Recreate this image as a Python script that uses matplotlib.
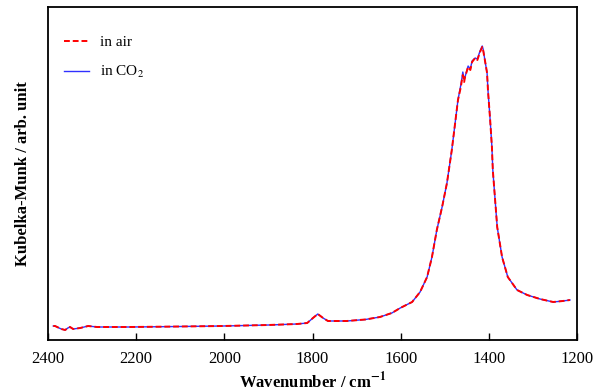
import matplotlib.pyplot as plt

plt.rcParams['font.family'] = ['Liberation Serif', 'DejaVu Serif']
plt.rcParams['mathtext.fontset'] = 'stix'

# wavenumber (cm-1) and Kubelka-Munk intensity (arb.)
wn = [2388, 2384, 2370, 2361, 2355, 2350, 2343, 2327, 2309, 2289, 2214, 2100, 2003,
      1900, 1835, 1812, 1799, 1788, 1776, 1765, 1722, 1680, 1647, 1620, 1601, 1574,
      1556, 1540, 1529, 1518, 1506, 1495, 1484, 1470, 1464, 1461, 1459, 1456, 1454,
      1447, 1442, 1438, 1431, 1426, 1420, 1417, 1415, 1413, 1409, 1404, 1402, 1397,
      1393, 1391, 1381, 1370, 1357, 1336, 1313, 1284, 1254, 1232, 1216]
air = [14, 14, 11, 10, 12, 13, 11, 12, 14, 13, 13, 13.5, 14,
       15, 16, 17, 22, 26, 22, 19, 19, 20.5, 23, 27, 32, 38,
       48, 63, 83, 110, 133, 157, 190, 240, 252, 260, 265, 258, 263,
       273, 270, 278, 282, 280, 288, 291, 293, 290, 280, 267, 250, 220,
       193, 170, 113, 83, 63, 50, 45, 41, 38, 39, 40]
co2 = [14, 14, 11, 10, 12, 13, 11, 12, 14, 13, 13, 13.5, 14,
       15, 16, 17, 22, 26, 22, 19, 19, 20.5, 23, 27, 32, 38,
       48, 63, 83, 110, 133, 157, 190, 240, 254, 262, 268, 260, 263,
       274, 271, 279, 282, 281, 289, 292, 294, 291, 280, 267, 250, 220,
       193, 170, 113, 83, 63, 50, 45, 41, 38, 39, 40]

fig = plt.figure(figsize=(6.02, 3.92), dpi=100)
ax = fig.add_axes([48/602, 1-340/392, 529/602, 333/392])

ax.plot(wn, co2, color='#3030ff', lw=1.0, label='in CO$_2$')
ax.plot(wn, air, color='red', lw=1.4, ls=(0, (3, 1.5)), label='in air')

ax.set_xlim(2400, 1200)
ax.set_ylim(0, 333)
ax.set_xticks([2400, 2200, 2000, 1800, 1600, 1400, 1200])
ax.set_yticks([])
ax.tick_params(axis='x', direction='in', length=5, width=1, labelsize=12, pad=8)
for s in ax.spines.values():
    s.set_linewidth(1.3)

ax.set_xlabel('Wavenumber / cm$^{\\mathbf{-1}}$', fontsize=12, fontweight='bold', labelpad=3)
ax.set_ylabel('Kubelka-Munk / arb. unit', fontsize=12, fontweight='bold', labelpad=12)

h, l = ax.get_legend_handles_labels()
ax.legend(h[::-1], l[::-1], loc='upper left', frameon=False, fontsize=11,
          handlelength=1.6, handletextpad=0.7, labelspacing=0.95,
          bbox_to_anchor=(0.005, 0.955))

fig.savefig('out.png', dpi=100)
